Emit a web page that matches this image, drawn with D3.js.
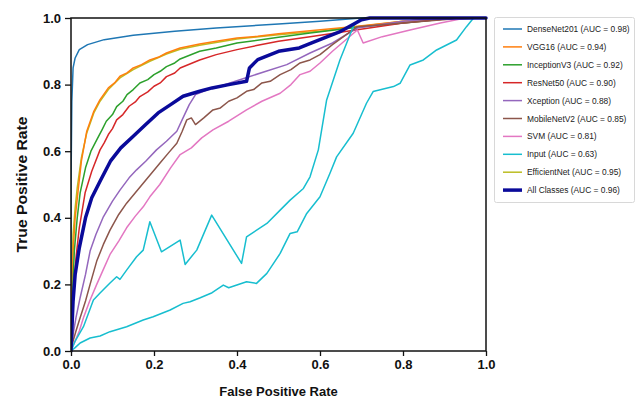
<!DOCTYPE html>
<html><head><meta charset="utf-8">
<script src="https://cdn.jsdelivr.net/npm/d3@7"></script>
<style>body{margin:0;background:#fff}svg text{font-family:"Liberation Sans",Arial,sans-serif}</style>
</head><body><svg id="c" width="639" height="398"></svg>
<script>
// ---- data: [FPR, TPR] points ----
const densenet = [[0,0],[0,0.5],[0.002,0.75],[0.005,0.85],[0.01,0.88],[0.02,0.905],[0.04,0.92],[0.08,0.935],[0.15,0.948],[0.25,0.96],[0.35,0.97],[0.5,0.982],[0.6,0.99],[0.7,1.0],[1,1]];
const efficientnet = [[0,0],[0.002,0.25],[0.005,0.35],[0.01,0.43],[0.015,0.49],[0.025,0.58],[0.038,0.655],[0.055,0.715],[0.07,0.75],[0.09,0.785],[0.118,0.82],[0.15,0.845],[0.19,0.87],[0.23,0.892],[0.263,0.906],[0.31,0.918],[0.4,0.937],[0.5,0.95],[0.6,0.96],[0.69,0.974],[0.8,0.99],[0.9,1],[1,1]];
const vgg16 = [[0,0],[0.002,0.2],[0.005,0.3],[0.01,0.4],[0.017,0.48],[0.025,0.57],[0.038,0.66],[0.055,0.72],[0.07,0.755],[0.09,0.79],[0.105,0.805],[0.118,0.825],[0.135,0.835],[0.15,0.85],[0.17,0.86],[0.19,0.874],[0.21,0.882],[0.23,0.895],[0.263,0.91],[0.31,0.922],[0.35,0.93],[0.4,0.94],[0.45,0.945],[0.5,0.953],[0.576,0.962],[0.69,0.975],[0.8,0.99],[0.9,1],[1,1]];
const inception = [[0,0],[0.003,0.15],[0.008,0.3],[0.015,0.4],[0.022,0.475],[0.035,0.55],[0.048,0.6],[0.062,0.634],[0.075,0.665],[0.085,0.69],[0.1,0.71],[0.11,0.734],[0.125,0.75],[0.135,0.77],[0.15,0.785],[0.166,0.805],[0.185,0.815],[0.2,0.83],[0.215,0.84],[0.23,0.854],[0.25,0.865],[0.263,0.877],[0.31,0.9],[0.35,0.91],[0.4,0.925],[0.5,0.942],[0.576,0.955],[0.69,0.972],[0.8,0.985],[0.9,0.997],[1,1]];
const resnet = [[0,0],[0.005,0.15],[0.012,0.28],[0.02,0.37],[0.034,0.475],[0.05,0.54],[0.07,0.604],[0.08,0.625],[0.09,0.65],[0.1,0.668],[0.11,0.694],[0.125,0.71],[0.14,0.735],[0.155,0.748],[0.166,0.764],[0.185,0.778],[0.2,0.795],[0.215,0.805],[0.23,0.824],[0.25,0.835],[0.263,0.85],[0.31,0.874],[0.35,0.89],[0.4,0.905],[0.45,0.918],[0.5,0.93],[0.576,0.944],[0.69,0.965],[0.8,0.985],[0.9,0.997],[1,1]];
const xception = [[0,0],[0.005,0.05],[0.012,0.1],[0.022,0.16],[0.035,0.23],[0.046,0.3],[0.06,0.35],[0.078,0.403],[0.1,0.45],[0.118,0.483],[0.14,0.52],[0.158,0.544],[0.18,0.57],[0.206,0.604],[0.23,0.63],[0.255,0.66],[0.27,0.7],[0.285,0.74],[0.3,0.77],[0.33,0.785],[0.37,0.8],[0.42,0.82],[0.47,0.84],[0.52,0.86],[0.576,0.895],[0.63,0.925],[0.69,0.97],[0.8,0.99],[0.9,1],[1,1]];
const mobilenet = [[0,0],[0.005,0.03],[0.012,0.06],[0.022,0.1],[0.035,0.15],[0.046,0.2],[0.062,0.27],[0.078,0.32],[0.094,0.363],[0.115,0.41],[0.134,0.444],[0.155,0.475],[0.174,0.504],[0.195,0.535],[0.214,0.564],[0.235,0.595],[0.255,0.624],[0.268,0.66],[0.279,0.694],[0.29,0.70],[0.3,0.68],[0.32,0.7],[0.342,0.724],[0.36,0.73],[0.38,0.75],[0.4,0.76],[0.423,0.78],[0.44,0.785],[0.46,0.805],[0.48,0.81],[0.504,0.83],[0.53,0.845],[0.552,0.865],[0.576,0.874],[0.6,0.89],[0.63,0.92],[0.69,0.974],[0.75,0.98],[0.85,0.99],[0.95,1],[1,1]];
const svm = [[0,0],[0.01,0.03],[0.02,0.06],[0.03,0.1],[0.045,0.15],[0.062,0.2],[0.078,0.245],[0.094,0.29],[0.115,0.33],[0.134,0.37],[0.155,0.405],[0.174,0.433],[0.19,0.463],[0.214,0.5],[0.24,0.55],[0.263,0.59],[0.29,0.61],[0.315,0.64],[0.342,0.664],[0.38,0.69],[0.423,0.724],[0.46,0.75],[0.504,0.774],[0.53,0.8],[0.552,0.83],[0.576,0.84],[0.6,0.865],[0.63,0.9],[0.69,0.964],[0.704,0.925],[0.75,0.944],[0.817,0.964],[0.89,0.985],[0.95,1],[1,1]];
const inputUpper = [[0,0],[0.01,0.03],[0.03,0.073],[0.054,0.153],[0.07,0.174],[0.094,0.204],[0.11,0.223],[0.118,0.215],[0.134,0.243],[0.158,0.283],[0.174,0.303],[0.19,0.388],[0.218,0.298],[0.263,0.333],[0.275,0.26],[0.303,0.303],[0.339,0.408],[0.411,0.263],[0.423,0.343],[0.472,0.383],[0.504,0.423],[0.528,0.453],[0.56,0.488],[0.576,0.523],[0.596,0.604],[0.616,0.754],[0.648,0.874],[0.68,0.974],[0.69,0.99],[0.7,1.0],[1,1]];
const inputLower = [[0,0],[0.01,0.01],[0.022,0.024],[0.046,0.039],[0.07,0.045],[0.094,0.058],[0.134,0.073],[0.174,0.093],[0.198,0.103],[0.239,0.123],[0.27,0.143],[0.287,0.148],[0.31,0.159],[0.34,0.175],[0.367,0.198],[0.38,0.19],[0.423,0.208],[0.447,0.203],[0.472,0.233],[0.504,0.293],[0.528,0.353],[0.545,0.358],[0.568,0.413],[0.6,0.463],[0.624,0.534],[0.64,0.583],[0.68,0.654],[0.712,0.744],[0.728,0.779],[0.777,0.794],[0.793,0.804],[0.817,0.859],[0.849,0.874],[0.881,0.904],[0.929,0.934],[0.953,0.974],[0.97,1.0],[1,1]];
const allClasses = [[0,0],[0.005,0.15],[0.01,0.23],[0.02,0.31],[0.035,0.4],[0.05,0.46],[0.07,0.51],[0.095,0.57],[0.12,0.61],[0.15,0.645],[0.18,0.68],[0.21,0.715],[0.24,0.74],[0.27,0.765],[0.31,0.78],[0.34,0.79],[0.38,0.8],[0.423,0.81],[0.43,0.85],[0.45,0.875],[0.5,0.9],[0.55,0.91],[0.58,0.925],[0.65,0.96],[0.7,0.995],[0.72,1.0],[1,1]];

const legendNames = ["DenseNet201","VGG16","InceptionV3","ResNet50","Xception","MobileNetV2","SVM","Input","EfficientNet","All Classes"];
const legendAUC = [0.98,0.94,0.92,0.90,0.88,0.85,0.81,0.63,0.95,0.96];
const xTicks = [0,0.2,0.4,0.6,0.8,1.0];
const yTicks = [0,0.2,0.4,0.6,0.8,1.0];

const colors = {DenseNet201:"#1f77b4",VGG16:"#ff7f0e",InceptionV3:"#2ca02c",ResNet50:"#d62728",Xception:"#9467bd",MobileNetV2:"#8c564b",SVM:"#e377c2",Input:"#17becf",EfficientNet:"#bcbd22","All Classes":"#0a0a9a"};

const svg = d3.select("#c");
const L=71,R=486,T=18,B=351;
const x = d3.scaleLinear().domain([0,1]).range([L,R]);
const y = d3.scaleLinear().domain([0,1]).range([B,T]);

const series = [
  {name:"EfficientNet",data:efficientnet,w:1.5},
  {name:"DenseNet201",data:densenet,w:1.5},
  {name:"VGG16",data:vgg16,w:1.5},
  {name:"InceptionV3",data:inception,w:1.5},
  {name:"ResNet50",data:resnet,w:1.5},
  {name:"Xception",data:xception,w:1.5},
  {name:"MobileNetV2",data:mobilenet,w:1.5},
  {name:"SVM",data:svm,w:1.5},
  {name:"Input",data:inputUpper,w:1.5},
  {name:"Input",data:inputLower,w:1.5},
  {name:"All Classes",data:allClasses,w:3.5}
];
const line = d3.line().x(d=>x(d[0])).y(d=>y(d[1]));
const g = svg.append("g");
g.append("clipPath").attr("id","clip").append("rect").attr("x",L).attr("y",T-2).attr("width",R-L+2).attr("height",B-T+4);
const lines = g.append("g").attr("clip-path","url(#clip)");
series.forEach(s=>{
  lines.append("path").attr("d",line(s.data)).attr("fill","none")
    .attr("stroke",colors[s.name]).attr("stroke-width",s.w).attr("stroke-linejoin","round").attr("stroke-linecap","round");
});

// frame
svg.append("rect").attr("x",L).attr("y",T).attr("width",R-L).attr("height",B-T)
  .attr("fill","none").attr("stroke","#111").attr("stroke-width",1.5);

// axes
const fmt = d3.format(".1f");
const xa = svg.append("g").attr("transform",`translate(0,${B})`)
  .call(d3.axisBottom(x).tickValues(xTicks).tickFormat(fmt).tickSize(5).tickPadding(4));
const ya = svg.append("g").attr("transform",`translate(${L},0)`)
  .call(d3.axisLeft(y).tickValues(yTicks).tickFormat(fmt).tickSize(6).tickPadding(4));
[xa,ya].forEach(a=>{
  a.select(".domain").remove();
  a.selectAll(".tick line").attr("stroke","#111").attr("stroke-width",1.3);
  a.selectAll(".tick text").attr("font-size",13).attr("font-weight","bold").attr("fill","#111")
   .attr("font-family",'"Liberation Sans",Arial,sans-serif');
});

svg.append("text").attr("x",(L+R)/2).attr("y",396).attr("text-anchor","middle")
  .attr("font-size",13).attr("font-weight","bold").attr("fill","#111").text("False Positive Rate");
svg.append("text").attr("transform",`translate(27,${(T+B)/2}) rotate(-90) scale(1.12,1)`).attr("text-anchor","middle")
  .attr("font-size",14).attr("font-weight","bold").attr("fill","#111").text("True Positive Rate");

// legend
const lg = svg.append("g");
lg.append("rect").attr("x",494.5).attr("y",17.5).attr("width",140).attr("height",185).attr("rx",2)
  .attr("fill","#fff").attr("stroke","#d8d8d8").attr("stroke-width",1);
legendNames.forEach((n,i)=>{
  const yy = 29 + i*17.9;
  lg.append("line").attr("x1",503).attr("x2",522).attr("y1",yy).attr("y2",yy)
    .attr("stroke",colors[n]).attr("stroke-width", n==="All Classes"?3.5:1.5);
  lg.append("text").attr("x",527).attr("y",yy+3).attr("font-size",8.4).attr("fill","#222")
    .text(`${n} (AUC = ${legendAUC[i].toFixed(2)})`);
});
</script></body></html>
